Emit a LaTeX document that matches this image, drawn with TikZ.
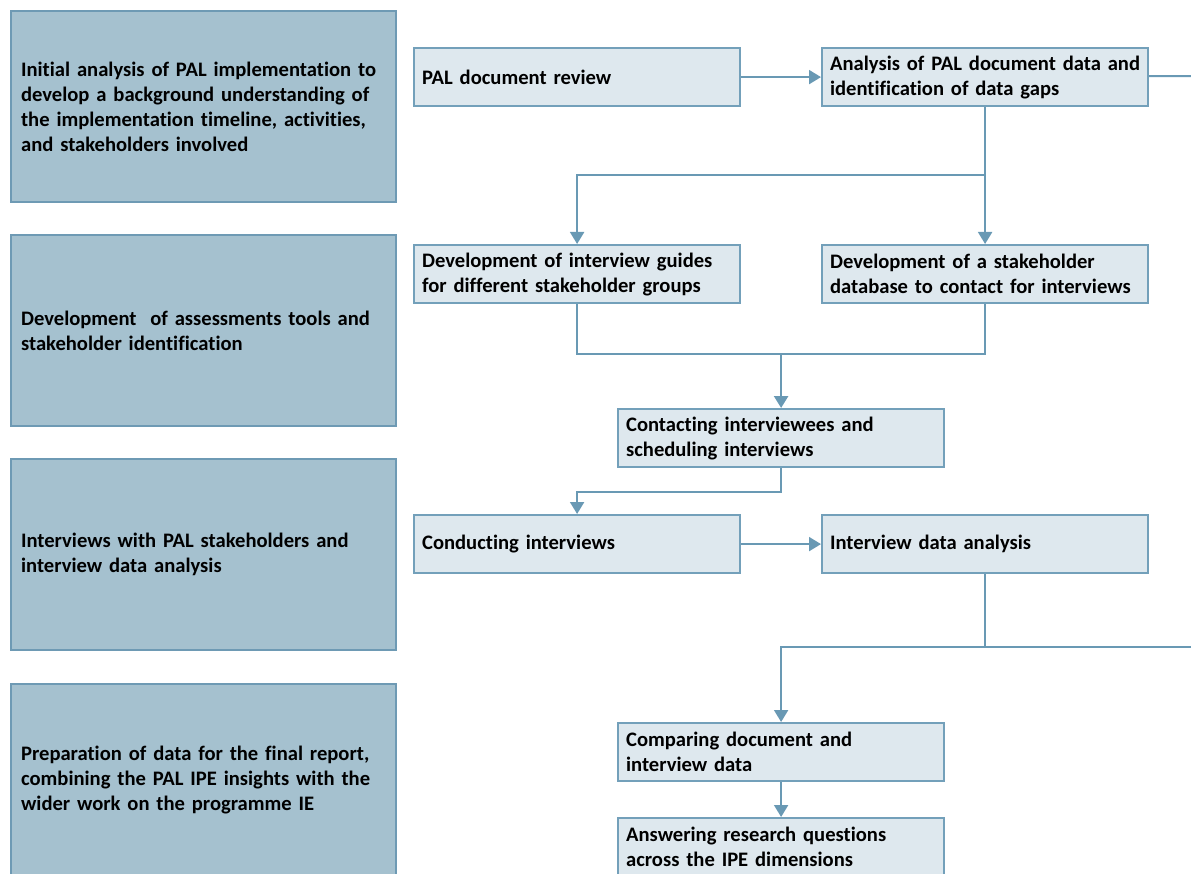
\documentclass[tikz,border=0pt]{standalone}
\usepackage{fontspec}
\setmainfont{Carlito}[Ligatures=NoCommon]
\usetikzlibrary{arrows.meta,positioning}
\definecolor{stagefill}{RGB}{165,193,207}
\definecolor{stageline}{RGB}{110,154,180}
\definecolor{stepfill}{RGB}{222,232,238}
\definecolor{stepline}{RGB}{115,160,186}
\definecolor{flowline}{RGB}{105,153,180}

\begin{document}
\begin{tikzpicture}[x=1pt,y=-1pt]

    \tikzset{
      stage/.style={
        draw=stageline,
        fill=stagefill,
        line width=2.2pt,
        anchor=north west,
        minimum width=385pt,
        minimum height=191pt,
        text width=365pt,
        inner xsep=10pt,
        align=left,
        font=\bfseries\fontsize{20.6}{25}\selectfont,
      },
      stepbox/.style={
        draw=stepline,
        fill=stepfill,
        line width=2.2pt,
        anchor=north west,
        minimum width=326pt,
        minimum height=58pt,
        text width=310pt,
        inner xsep=8pt,
        align=left,
        font=\bfseries\fontsize{20.6}{25}\selectfont,
      },
      link/.style={draw=flowline, line width=2pt},
      flow/.style={link, -{Triangle[length=12pt,width=14pt]}},
    }
    \clip (0,0) rectangle (1191,874);
	\node[stage] (s1) at (10,10) {Initial analysis of PAL implementation to\\develop a background understanding of\\the implementation timeline, activities,\\and stakeholders involved};
	\node[stage] (s2) at (10,234) {Development\ \ of assessments tools and\\stakeholder identification};
	\node[stage] (s3) at (10,458) {Interviews with PAL stakeholders and\\interview data analysis};
	\node[stage] (s4) at (10,683) {Preparation of data for the final report,\\combining the PAL IPE insights with the\\wider work on the programme IE};

	\node[stepbox] (review) at (413,47) {PAL document review};
	\node[stepbox] (gaps) at (821,47) {Analysis of PAL document data and\\identification of data gaps};
	\node[stepbox] (guides) at (413,244) {Development of interview guides\\for different stakeholder groups};
	\node[stepbox] (dbase) at (821,244) {Development of a stakeholder\\database to contact for interviews};
	\node[stepbox] (contact) at (617,408) {Contacting interviewees and\\scheduling interviews};
	\node[stepbox] (conduct) at (413,514) {Conducting interviews};
	\node[stepbox] (idata) at (821,514) {Interview data analysis};
	\node[stepbox] (compare) at (617,722) {Comparing document and\\interview data};
	\node[stepbox] (answer) at (617,817) {Answering research questions\\across the IPE dimensions};

	\coordinate (edge1) at (1195,76);
	\coordinate (split1) at (gaps.south |- 0,175);
	\coordinate (join1) at (contact.north |- 0,354);
	\coordinate (split2) at (idata.south |- 0,647);
	\coordinate (edge2) at (1195,647);

	\draw[flow] (review) -- (gaps);
	\draw[link] (gaps) -- (edge1);
	\draw[flow] (gaps) -- (dbase);
	\draw[flow] (split1) -| (guides);
	\draw[link] (guides.south) |- (join1) -| (dbase.south);
	\draw[flow, line width=2.6pt] (join1) -- (contact);
	\draw[flow] (contact.south) -- ++(0,24) -| (conduct);
	\draw[flow] (conduct) -- (idata);
	\draw[link] (idata.south) -- (split2);
	\draw[flow] (edge2) -| (compare);
	\draw[flow] (compare) -- (answer);

\end{tikzpicture}
\end{document}
